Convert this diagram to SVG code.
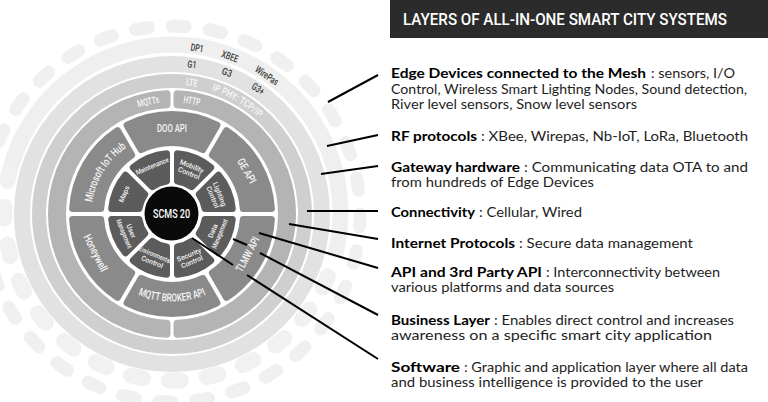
<svg xmlns="http://www.w3.org/2000/svg" width="768" height="402" viewBox="0 0 768 402">
<style>
.cond{font-family:Roboto,"Liberation Sans",sans-serif;font-weight:500}
.rl{font-size:10px;fill:#3a3a3a;text-anchor:middle;dominant-baseline:central}
.wl{fill:#f7f7f7}
.al{font-size:11px;fill:#f4f4f4;text-anchor:middle;dominant-baseline:central}
.il{font-size:7px;fill:#f2f2f2;text-anchor:middle}
.body{font-family:Lato,"Noto Sans","Liberation Sans",sans-serif;font-size:13.5px;fill:#1e1e1e}
.b{font-weight:bold;fill:#000}
.conn line{stroke:#000;stroke-width:2}
.seg1{fill:#5c5c5c;stroke:#5c5c5c;stroke-width:7;stroke-linejoin:round}
.seg2{fill:#8a8a8a;stroke:#8a8a8a;stroke-width:7;stroke-linejoin:round}
.seg3{fill:#b4b4b4;stroke:#b4b4b4;stroke-width:8;stroke-linejoin:round}
</style>
<defs>
<path id="s1" d="M -17.975,-57.768 A 60.5 60.5 0 0 1 17.975,-57.768 L 7.566,-32.634 A 33.5 33.5 0 0 0 -7.566,-32.634 Z"/>
<path id="s2" d="M -44.915,-88.785 A 99.5 99.5 0 0 1 44.915,-88.785 L 30.881,-64.487 A 71.5 71.5 0 0 0 -30.881,-64.487 Z"/>
<path id="s3" d="M -119.874,-5.5 A 120 120 0 0 1 119.874,-5.5 L 109.862,-5.5 A 110 110 0 0 0 -109.862,-5.5 Z"/>
<path id="p-mqttb" d="M 96.22 257.75 A 87.5 87.5 0 0 0 247.78 257.75"/>
<path id="p-ms" d="M 93.56 232.11 A 80.5 80.5 0 0 1 153.89 135.56"/>
<path id="p-ip" d="M 149.43 85.97 A 130 130 0 0 1 294.16 169.54"/>
</defs>
<rect width="768" height="402" fill="#fff"/>

<g id="title">
<rect x="390" y="0" width="378" height="38" fill="#2b2b2b"/>
<text class="cond" x="403" y="24.5" font-size="16" fill="#fff" textLength="324" lengthAdjust="spacingAndGlyphs">LAYERS OF ALL-IN-ONE SMART CITY SYSTEMS</text>
</g>

<g id="ring-edge-devices">
<circle cx="172" cy="214" r="188" fill="none" stroke="#f0f0f0" stroke-width="13" stroke-linecap="round" stroke-dasharray="13 23.91"/>
</g>
<g id="ring-rf">
<path d="M 10.5 167.7 A 168 168 0 0 1 334.3 257.5" fill="none" stroke="#efefef" stroke-width="16"/>
<path d="M 334.3 257.5 A 168 168 0 1 1 10.5 167.7" fill="none" stroke="#f1f1f1" stroke-width="16" stroke-linecap="round" stroke-dasharray="12 26" stroke-dashoffset="-20"/>
<g class="cond rl">
<text transform="translate(197.1 47.9) rotate(8.6)" textLength="13" lengthAdjust="spacingAndGlyphs">DP1</text>
<text transform="translate(230 56.3) rotate(20.2)" textLength="17" lengthAdjust="spacingAndGlyphs">XBEE</text>
<text transform="translate(266.9 75.4) rotate(34.4)" textLength="26" lengthAdjust="spacingAndGlyphs">WirePas</text>
</g>
</g>
<g id="ring-gateway">
<circle cx="172" cy="214" r="150" fill="none" stroke="#e2e2e2" stroke-width="16"/>
<g class="cond rl">
<text transform="translate(192 64.3) rotate(7.6)" textLength="9" lengthAdjust="spacingAndGlyphs">G1</text>
<text transform="translate(227 72.3) rotate(21.2)" textLength="10" lengthAdjust="spacingAndGlyphs">G3</text>
<text transform="translate(258.1 88.7) rotate(34.5)" textLength="13" lengthAdjust="spacingAndGlyphs">G3+</text>
</g>
</g>
<g id="ring-connectivity">
<circle cx="172" cy="214" r="133" fill="none" stroke="#cfcfcf" stroke-width="14"/>
<g class="cond rl wl">
<text transform="translate(191.9 82.5) rotate(8.6)" textLength="12" lengthAdjust="spacingAndGlyphs">LTE</text>
</g>
<text class="cond" font-size="10" fill="#f7f7f7" text-anchor="middle"><textPath href="#p-ip" startOffset="50%" textLength="55" lengthAdjust="spacingAndGlyphs">IP PHY: TCP/IP</textPath></text>
</g>
<g id="ring-internet">
<g id="node-mqtts">
<use href="#s3" class="seg3" transform="translate(172 214) rotate(-90)"/>
<text class="cond rl wl" transform="translate(148.1 101.5) rotate(-12)" textLength="22" lengthAdjust="spacingAndGlyphs">MQTTs</text>
</g>
<g id="node-http">
<use href="#s3" class="seg3" transform="translate(172 214) rotate(90)"/>
<text class="cond rl wl" transform="translate(192 100.7) rotate(10)" textLength="17" lengthAdjust="spacingAndGlyphs">HTTP</text>
</g>
</g>

<g id="ring-api">
<g id="node-doo-api"><use href="#s2" class="seg2" transform="translate(172 214) rotate(0)"/>
<text class="cond al" transform="translate(172 128)" textLength="30" lengthAdjust="spacingAndGlyphs">DOO API</text></g>
<g id="node-ge-api"><use href="#s2" class="seg2" transform="translate(172 214) rotate(60)"/>
<text class="cond al" transform="translate(246.5 171) rotate(60)" textLength="27" lengthAdjust="spacingAndGlyphs">GE API</text></g>
<g id="node-tlmw-api"><use href="#s2" class="seg2" transform="translate(172 214) rotate(120)"/>
<text class="cond al" transform="translate(247.9 254.4) rotate(-62)" textLength="38" lengthAdjust="spacingAndGlyphs">TLMW API</text></g>
<g id="node-mqtt-broker-api"><use href="#s2" class="seg2" transform="translate(172 214) rotate(180)"/>
<text class="cond" font-size="11" fill="#f4f4f4" text-anchor="middle"><textPath href="#p-mqttb" startOffset="50%" textLength="70" lengthAdjust="spacingAndGlyphs">MQTT BROKER API</textPath></text></g>
<g id="node-honeywell"><use href="#s2" class="seg2" transform="translate(172 214) rotate(240)"/>
<text class="cond al" transform="translate(95.4 253) rotate(63)" textLength="40" lengthAdjust="spacingAndGlyphs">Honeywell</text></g>
<g id="node-microsoft-iot-hub"><use href="#s2" class="seg2" transform="translate(172 214) rotate(300)"/>
<text class="cond" font-size="11" fill="#f4f4f4" text-anchor="middle"><textPath href="#p-ms" startOffset="50%" textLength="66" lengthAdjust="spacingAndGlyphs">Microsoft IoT Hub</textPath></text></g>
</g>

<g id="ring-business">
<g id="node-maintenance"><use href="#s1" class="seg1" transform="translate(172 214) rotate(-22.5)"/>
<text class="cond il" transform="translate(152.1 166) rotate(-22.5)" y="2.5" textLength="35" lengthAdjust="spacingAndGlyphs">Maintenance</text></g>
<g id="node-mobility-control"><use href="#s1" class="seg1" transform="translate(172 214) rotate(22.5)"/>
<g class="cond il" transform="translate(190.4 169.7) rotate(22.5)"><text y="-1.3">Mobility</text><text y="6.2">Control</text></g></g>
<g id="node-lighting-control"><use href="#s1" class="seg1" transform="translate(172 214) rotate(67.5)"/>
<g class="cond il" transform="translate(216.3 195.6) rotate(67.5)"><text y="-1.3">Lighting</text><text y="6.2">Control</text></g></g>
<g id="node-data-management"><use href="#s1" class="seg1" transform="translate(172 214) rotate(112.5)"/>
<g class="cond il" transform="translate(216.3 232.4) rotate(-67.5)"><text y="-1.3">Data</text><text y="6.2" textLength="31" lengthAdjust="spacingAndGlyphs">Management</text></g></g>
<g id="node-security-control"><use href="#s1" class="seg1" transform="translate(172 214) rotate(157.5)"/>
<g class="cond il" transform="translate(190.4 258.3) rotate(-22.5)"><text y="-1.3">Security</text><text y="6.2">Control</text></g></g>
<g id="node-environmental-control"><use href="#s1" class="seg1" transform="translate(172 214) rotate(202.5)"/>
<g class="cond il" transform="translate(153.6 258.3) rotate(22.5)"><text y="-1.3" textLength="34" lengthAdjust="spacingAndGlyphs">Environmental</text><text y="6.2">Control</text></g></g>
<g id="node-user-management"><use href="#s1" class="seg1" transform="translate(172 214) rotate(247.5)"/>
<g class="cond il" transform="translate(127.7 232.4) rotate(67.5)"><text y="-1.3">User</text><text y="6.2" textLength="31" lengthAdjust="spacingAndGlyphs">Management</text></g></g>
<g id="node-maps"><use href="#s1" class="seg1" transform="translate(172 214) rotate(292.5)"/>
<text class="cond il" transform="translate(124 194.1) rotate(-67.5)" y="2.5">Maps</text></g>
</g>

<g id="node-scms">
<circle cx="171.5" cy="213.5" r="27" fill="#0a0a0a"/>
<text class="cond" x="171.5" y="213.5" font-size="12.5" fill="#fff" text-anchor="middle" dominant-baseline="central" textLength="37" lengthAdjust="spacingAndGlyphs">SCMS 20</text>
</g>

<g id="connectors" class="conn">
<line x1="378" y1="75" x2="328" y2="102"/>
<line x1="378" y1="135" x2="327" y2="146"/>
<line x1="378" y1="166" x2="321" y2="174"/>
<line x1="378" y1="211" x2="307" y2="211"/>
<line x1="378" y1="239" x2="289" y2="224"/>
<line x1="378" y1="268" x2="259" y2="233"/>
<line x1="378" y1="315" x2="260" y2="253"/>
<line x1="247" y1="245" x2="233" y2="239"/>
<line x1="378" y1="359" x2="247" y2="275"/>
<line x1="233" y1="265" x2="192" y2="238"/>
</g>

<g id="legend-edge" class="body">
<text class="b" x="391" y="78" textLength="255" lengthAdjust="spacingAndGlyphs">Edge Devices connected to the Mesh</text>
<text x="651" y="78" textLength="84" lengthAdjust="spacingAndGlyphs">: sensors, I/O</text>
<text x="391" y="94" textLength="356" lengthAdjust="spacingAndGlyphs">Control, Wireless Smart Lighting Nodes, Sound detection,</text>
<text x="391" y="109.3" textLength="246" lengthAdjust="spacingAndGlyphs">River level sensors, Snow level sensors</text>
</g>
<g id="legend-rf" class="body">
<text class="b" x="391" y="140.7" textLength="86" lengthAdjust="spacingAndGlyphs">RF protocols</text>
<text x="481" y="140.7" textLength="267" lengthAdjust="spacingAndGlyphs">: XBee, Wirepas, Nb-IoT, LoRa, Bluetooth</text>
</g>
<g id="legend-gateway" class="body">
<text class="b" x="391" y="171.7" textLength="129" lengthAdjust="spacingAndGlyphs">Gateway hardware</text>
<text x="524" y="171.7" textLength="224" lengthAdjust="spacingAndGlyphs">: Communicating data OTA to and</text>
<text x="391" y="186.7" textLength="203" lengthAdjust="spacingAndGlyphs">from hundreds of Edge Devices</text>
</g>
<g id="legend-connectivity" class="body">
<text class="b" x="391" y="216.7" textLength="84" lengthAdjust="spacingAndGlyphs">Connectivity</text>
<text x="479" y="216.7" textLength="103" lengthAdjust="spacingAndGlyphs">: Cellular, Wired</text>
</g>
<g id="legend-internet" class="body">
<text class="b" x="391" y="247.7" textLength="124" lengthAdjust="spacingAndGlyphs">Internet Protocols</text>
<text x="519" y="247.7" textLength="174" lengthAdjust="spacingAndGlyphs">: Secure data management</text>
</g>
<g id="legend-api" class="body">
<text class="b" x="391" y="277" textLength="151" lengthAdjust="spacingAndGlyphs">API and 3rd Party API</text>
<text x="546" y="277" textLength="174" lengthAdjust="spacingAndGlyphs">: Interconnectivity between</text>
<text x="391" y="292.3" textLength="223" lengthAdjust="spacingAndGlyphs">various platforms and data sources</text>
</g>
<g id="legend-business" class="body">
<text class="b" x="391" y="324.7" textLength="99" lengthAdjust="spacingAndGlyphs">Business Layer</text>
<text x="494" y="324.7" textLength="240" lengthAdjust="spacingAndGlyphs">: Enables direct control and increases</text>
<text x="391" y="340" textLength="321" lengthAdjust="spacingAndGlyphs">awareness on a specific smart city application</text>
</g>
<g id="legend-software" class="body">
<text class="b" x="391" y="371.7" textLength="69" lengthAdjust="spacingAndGlyphs">Software</text>
<text x="464" y="371.7" textLength="284" lengthAdjust="spacingAndGlyphs">: Graphic and application layer where all data</text>
<text x="391" y="386.7" textLength="312" lengthAdjust="spacingAndGlyphs">and business intelligence is provided to the user</text>
</g>
</svg>
